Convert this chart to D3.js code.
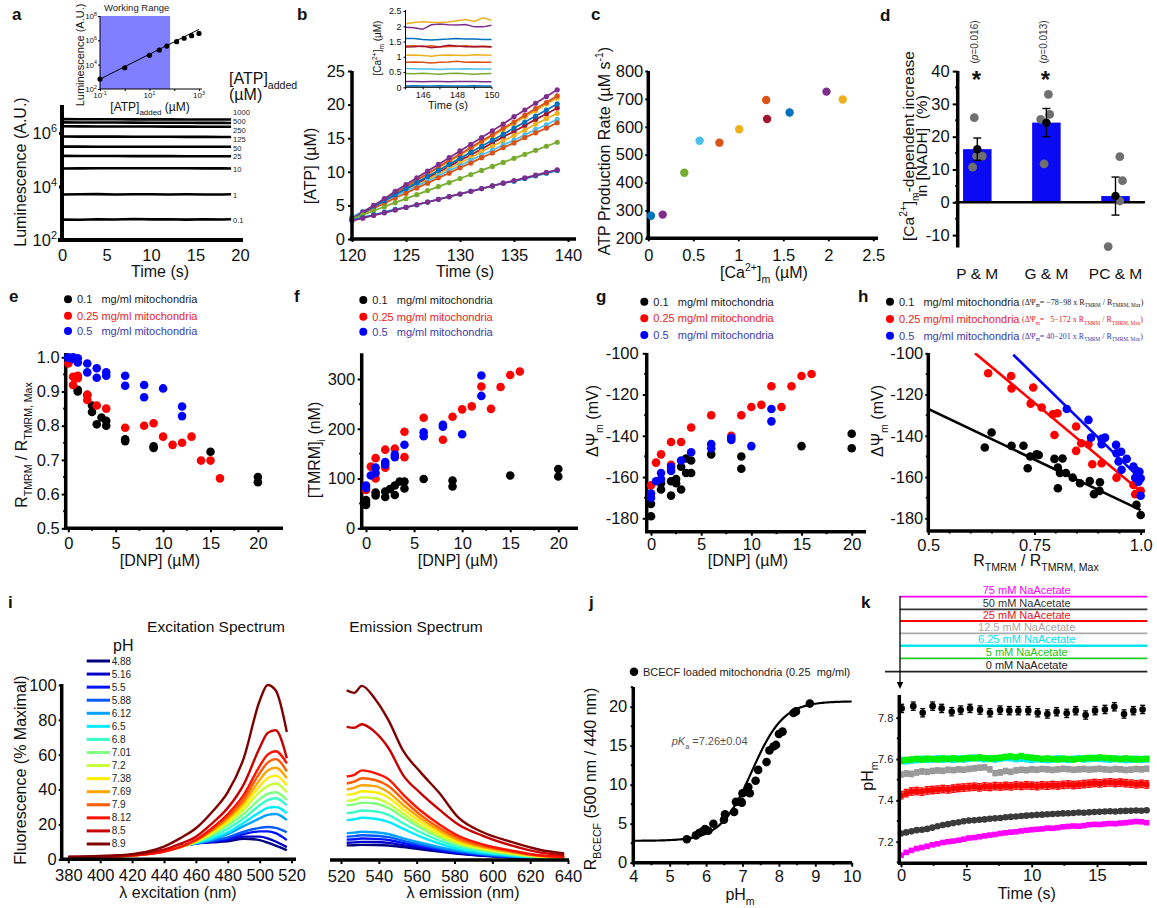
<!DOCTYPE html>
<html>
<head>
<meta charset="utf-8">
<script src="https://cdn.jsdelivr.net/npm/d3@7"></script>
<style>
  body { margin: 0; background: #fff; }
  svg { display: block; }
</style>
</head>
<body>
<div id="chart"></div>
<script>
// ================= DATA =================
// a — luciferase luminescence traces for each added [ATP]
const atpAdded = ['1000', '500', '250', '125', '50', '25', '10', '1', '0.1'];
const lumTime = [0, 2, 4, 6, 8, 10, 12, 14, 16, 18, 19];
const lum1000 = [3.30e6, 3.28e6, 3.27e6, 3.25e6, 3.24e6, 3.23e6, 3.22e6, 3.21e6, 3.20e6, 3.19e6, 3.18e6];
const lum500  = [2.50e6, 2.48e6, 2.47e6, 2.46e6, 2.44e6, 2.43e6, 2.42e6, 2.41e6, 2.40e6, 2.39e6, 2.38e6];
const lum250  = [1.78e6, 1.77e6, 1.76e6, 1.75e6, 1.75e6, 1.74e6, 1.73e6, 1.73e6, 1.72e6, 1.71e6, 1.71e6];
const lum125  = [7.40e5, 7.35e5, 7.30e5, 7.30e5, 7.25e5, 7.20e5, 7.20e5, 7.15e5, 7.15e5, 7.10e5, 7.10e5];
const lum50   = [3.10e5, 3.10e5, 3.08e5, 3.08e5, 3.07e5, 3.07e5, 3.06e5, 3.06e5, 3.05e5, 3.05e5, 3.05e5];
const lum25   = [1.39e5, 1.38e5, 1.38e5, 1.38e5, 1.37e5, 1.37e5, 1.37e5, 1.36e5, 1.36e5, 1.36e5, 1.36e5];
const lum10   = [4.70e4, 4.75e4, 4.80e4, 4.78e4, 4.80e4, 4.82e4, 4.78e4, 4.80e4, 4.76e4, 4.75e4, 4.72e4];
const lum1    = [5.00e3, 5.10e3, 5.20e3, 5.00e3, 5.10e3, 5.15e3, 5.05e3, 5.10e3, 5.00e3, 5.05e3, 5.10e3];
const lum01   = [580, 570, 600, 585, 610, 590, 600, 580, 595, 585, 600];
const lumTraces = [lum1000, lum500, lum250, lum125, lum50, lum25, lum10, lum1, lum01];
const lumLabelNudge = [-7, -1.4, 3.7, 2.5, 1.2, 0.5, 1, 0.7, 0.8];
// a inset — calibration
const atpInsetConc = [0.1, 1, 10, 25, 50, 125, 250, 500, 1000];
const atpInsetLum = [660, 5600, 5.9e4, 1.6e5, 3.4e5, 7.8e5, 1.48e6, 2.4e6, 3.7e6];
const atpWorkingRange = [0.1, 68];
const atpFitEnds = [[0.1, 650], [1000, 8.0e6]];

// b / c — ATP production and matrix Ca2+ (one entry per experiment)
const mBlue = '#0072BD', mOrange = '#D95319', mYellow = '#EDB120', mPurple = '#7E2F8E',
      mGreen = '#77AC30', mLightBlue = '#4DBEEE', mDarkRed = '#A2142F';
const caColor = [mBlue, mPurple, mGreen, mLightBlue, mOrange, mYellow, mOrange, mDarkRed, mBlue, mPurple, mYellow];
const caConc = [0.03, 0.16, 0.40, 0.57, 0.79, 1.01, 1.31, 1.32, 1.57, 1.98, 2.16];
const atpRate = [281, 285, 435, 550, 543, 591, 696, 628, 651, 726, 698];
const atpTime = [120, 121, 122, 123, 124, 125, 126, 127, 128, 129, 130, 131, 132, 133, 134, 135, 136, 137, 138, 139];
const atpTrace = [
  [2.8, 3.2, 3.6, 4.0, 4.4, 4.7, 5.1, 5.5, 5.9, 6.3, 6.7, 7.1, 7.5, 7.9, 8.3, 8.6, 9.0, 9.4, 9.8, 10.2],
  [2.7, 3.1, 3.5, 3.9, 4.3, 4.7, 5.1, 5.5, 5.9, 6.3, 6.7, 7.1, 7.5, 7.9, 8.3, 8.7, 9.1, 9.5, 9.9, 10.3],
  [3.0, 3.6, 4.2, 4.8, 5.4, 6.0, 6.6, 7.2, 7.8, 8.4, 9.0, 9.6, 10.2, 10.8, 11.4, 12.0, 12.6, 13.2, 13.8, 14.4],
  [3.3, 4.1, 4.8, 5.6, 6.4, 7.1, 7.9, 8.6, 9.4, 10.2, 10.9, 11.7, 12.5, 13.2, 14.0, 14.7, 15.5, 16.3, 17.0, 17.8],
  [3.1, 3.8, 4.6, 5.3, 6.1, 6.8, 7.6, 8.3, 9.1, 9.8, 10.6, 11.3, 12.1, 12.8, 13.6, 14.3, 15.1, 15.8, 16.5, 17.3],
  [3.1, 3.9, 4.7, 5.6, 6.4, 7.2, 8.0, 8.8, 9.7, 10.5, 11.3, 12.1, 13.0, 13.8, 14.6, 15.4, 16.2, 17.1, 17.9, 18.7],
  [3.0, 4.0, 4.9, 5.9, 6.9, 7.8, 8.8, 9.7, 10.7, 11.7, 12.6, 13.6, 14.6, 15.5, 16.5, 17.4, 18.4, 19.4, 20.3, 21.3],
  [3.0, 3.9, 4.7, 5.6, 6.5, 7.3, 8.2, 9.1, 9.9, 10.8, 11.7, 12.5, 13.4, 14.3, 15.2, 16.0, 16.9, 17.8, 18.6, 19.5],
  [3.0, 3.9, 4.8, 5.7, 6.6, 7.5, 8.4, 9.3, 10.2, 11.1, 12.0, 12.9, 13.8, 14.7, 15.6, 16.5, 17.4, 18.3, 19.2, 20.1],
  [3.0, 4.0, 5.0, 6.0, 7.1, 8.1, 9.1, 10.1, 11.1, 12.1, 13.1, 14.1, 15.1, 16.1, 17.1, 18.2, 19.2, 20.2, 21.2, 22.2],
  [3.0, 3.9, 4.9, 5.8, 6.8, 7.7, 8.7, 9.6, 10.6, 11.5, 12.5, 13.4, 14.4, 15.3, 16.3, 17.2, 18.2, 19.1, 20.1, 21.0]
];
const atpDrawOrder = [10, 6, 7, 5, 3, 4, 8, 9, 2, 0, 1];
const caTime = [145, 145.5, 146, 146.5, 147, 147.5, 148, 148.5, 149, 149.5, 150];
const caTrace = [
  [0.04, 0.05, 0.04, 0.04, 0.05, 0.04, 0.04, 0.04, 0.05, 0.04, 0.04],
  [0.19, 0.19, 0.18, 0.19, 0.19, 0.18, 0.19, 0.19, 0.19, 0.18, 0.18],
  [0.45, 0.44, 0.46, 0.44, 0.43, 0.45, 0.46, 0.44, 0.43, 0.44, 0.45],
  [0.62, 0.61, 0.60, 0.60, 0.58, 0.60, 0.60, 0.61, 0.60, 0.60, 0.60],
  [0.82, 0.83, 0.82, 0.80, 0.82, 0.83, 0.85, 0.82, 0.83, 0.82, 0.82],
  [1.05, 1.06, 1.04, 1.02, 1.05, 1.06, 1.05, 1.04, 1.07, 1.06, 1.05],
  [1.35, 1.36, 1.33, 1.36, 1.32, 1.34, 1.34, 1.36, 1.33, 1.35, 1.33],
  [1.32, 1.33, 1.35, 1.30, 1.33, 1.38, 1.35, 1.33, 1.34, 1.33, 1.32],
  [1.60, 1.60, 1.57, 1.55, 1.57, 1.58, 1.60, 1.58, 1.58, 1.57, 1.57],
  [1.97, 1.95, 1.90, 2.05, 2.07, 2.05, 2.04, 2.06, 1.98, 1.98, 2.03],
  [2.08, 2.12, 2.15, 2.13, 2.12, 2.14, 2.18, 2.22, 2.16, 2.28, 2.20]
];

// d — Ca2+-dependent NADH increase
const nadhGroups = ['P & M', 'G & M', 'PC & M'];
const nadhMean = [16.2, 24.3, 1.9];
const nadhSem = [3.4, 4.3, 5.8];
const nadhPoints = [[25.8, 10.7, 14.1, 14.1], [32.9, 25.3, 26.8, 11.7], [13.9, 6.6, 0.4, -13.5]];
const nadhJitter = [[-3, -4.7, -0.7, 5], [2, -5.7, 3.3, -2.3], [4.3, 7, 4.3, -7.3]];
const nadhP = ['0.016', '0.013', null];

// e–h — TMRM calibration at three mitochondrial densities
const mitoLabels = ['0.1\u00a0\u00a0\u00a0mg/ml mitochondria', '0.25 mg/ml mitochondria', '0.5\u00a0\u00a0\u00a0mg/ml mitochondria'];
const tmrmRatio01 = [[1, 0.905], [1, 0.9], [2, 0.89], [2.5, 0.859], [2.5, 0.84], [3, 0.804], [3.5, 0.824], [4, 0.814], [4, 0.80], [6, 0.755], [6, 0.76], [9, 0.74], [9, 0.735], [15, 0.724], [20, 0.65], [20, 0.635]];
const tmrmRatio025 = [[0, 0.982], [0.5, 0.943], [0.5, 0.919], [1, 0.946], [1, 0.939], [2, 0.89], [2, 0.875], [3, 0.859], [4, 0.85], [6, 0.794], [8, 0.80], [9, 0.807], [10, 0.768], [11, 0.744], [12, 0.75], [13, 0.768], [14, 0.698], [15, 0.698], [16, 0.646]];
const tmrmRatio05 = [[0, 1.0], [0, 0.998], [0.5, 1.0], [0.5, 0.995], [1, 0.997], [1, 0.985], [2, 0.982], [2, 0.956], [3, 0.968], [3, 0.94], [4, 0.956], [4, 0.946], [6, 0.946], [6, 0.917], [8, 0.919], [8, 0.883], [10, 0.909], [12, 0.856], [12, 0.828]];
const tmrmConc01 = [[0, 57], [0, 47], [0, 52], [1, 72], [1, 66], [2, 63], [2, 74], [2.5, 79], [3, 67], [3, 86], [3.5, 94], [4, 94], [4, 80], [6, 99], [9, 96], [9, 84], [15, 106], [20, 119], [20, 104]];
const tmrmConc025 = [[0, 77], [0.5, 124], [1, 141], [1, 100], [2, 158], [2, 122], [3, 160], [4, 194], [4, 143], [6, 222], [8, 178], [9, 224], [10, 239], [11, 245], [12, 285], [13, 240], [14, 284], [15, 308], [16, 315]];
const tmrmConc05 = [[0, 86], [0, 81], [0.5, 106], [1, 122], [1, 111], [2, 133], [2, 128], [3, 148], [3, 143], [4, 168], [6, 193], [6, 185], [8, 208], [8, 204], [10, 189], [12, 307], [12, 266]];
const psiDnp01 = [[0, -173], [0, -179], [1, -163], [1, -166], [2, -162], [2, -169], [2.5, -161], [2.5, -163], [3, -155], [3, -166], [3.5, -151], [3.5, -158], [4, -152], [4, -158], [6, -149], [9, -150], [9, -156], [15, -145], [20, -139], [20, -146]];
const psiDnp025 = [[0, -164], [0.5, -153], [1, -149], [2, -143], [2, -154], [3, -143], [4, -136], [6, -130], [8, -140], [9, -130], [10, -126], [11, -125], [12, -116], [13, -126], [14, -116], [15, -111], [16, -110]];
const psiDnp05 = [[0, -168], [0, -170], [0.5, -162], [1, -158], [1, -161], [2, -155], [2, -157], [3, -152], [4, -148], [6, -144], [6, -146], [8, -141], [8, -142], [10, -145], [12, -127], [12, -133]];
const psiRatio01 = [[0.633, -145.7], [0.649, -138.4], [0.696, -144.9], [0.724, -144.8], [0.734, -155.7], [0.74, -150], [0.755, -149], [0.76, -149.3], [0.797, -151.2], [0.816, -151], [0.805, -155.4], [0.81, -158], [0.805, -165.4], [0.824, -158], [0.84, -160.3], [0.857, -163], [0.88, -161.9], [0.89, -168.3], [0.904, -162.5], [0.903, -166.7], [0.99, -173.5], [1.0, -178.4]];
const psiRatio025 = [[0.641, -109.7], [0.695, -111], [0.696, -117], [0.747, -116.6], [0.741, -124.4], [0.767, -126.3], [0.793, -129.6], [0.804, -129.1], [0.797, -139.6], [0.848, -135.5], [0.848, -147.3], [0.86, -143.6], [0.877, -144.1], [0.908, -153.3], [0.886, -153.8], [0.943, -160.3], [0.983, -163.8], [0.987, -168.3], [1.0, -166.7]];
const psiRatio05 = [[0.826, -127], [0.877, -132.3], [0.883, -140.9], [0.908, -141.5], [0.916, -140.9], [0.908, -144.1], [0.942, -144.4], [0.943, -148.5], [0.954, -147.7], [0.948, -152.5], [0.967, -151.2], [0.955, -156.5], [0.983, -154.9], [0.99, -157], [0.987, -160.3], [0.997, -157.4], [1.0, -160.6], [1.0, -169.1], [0.995, -162.2]];
// linear fits ΔΨm = a + b·R (intercept, slope) and the R span each one covers
const psiFitCoef = [[-78, -98], [5, -172], [40, -201]];
const psiFitSpan = [[0.5, 1.0], [0.61, 1.0], [0.7, 1.0]];
const psiFitText = ['\u221278\u221298', '\u00a0\u00a05\u2212172', '40\u2212201'];

// i — BCECF excitation / emission spectra at each pH
const pHLevels = ['4.88', '5.16', '5.5', '5.88', '6.12', '6.5', '6.8', '7.01', '7.2', '7.38', '7.69', '7.9', '8.12', '8.5', '8.9'];
const exWl = [380, 400, 420, 430, 440, 450, 460, 470, 480, 490, 500, 505, 510, 517];
const exSpectra = [
  [1.2, 1.5, 2.5, 3.5, 5.3, 7.6, 9.2, 9.8, 10.3, 11.8, 11.0, 9.5, 7.8, 5.2],
  [1.2, 1.5, 2.5, 3.5, 5.3, 7.6, 9.2, 10.0, 11.0, 13.0, 13.0, 12.0, 10.2, 7.0],
  [1.2, 1.5, 2.5, 3.5, 5.2, 7.5, 9.1, 10.2, 11.8, 14.5, 16.0, 16.0, 15.0, 11.0],
  [1.2, 1.5, 2.4, 3.4, 5.1, 7.4, 9.1, 10.6, 12.6, 15.8, 18.0, 18.5, 18.0, 15.5],
  [1.2, 1.5, 2.4, 3.4, 5.0, 7.3, 9.2, 11.2, 14.5, 19.0, 23.5, 25.5, 26.0, 22.5],
  [1.2, 1.5, 2.3, 3.3, 4.9, 7.2, 9.4, 12.0, 15.5, 21.0, 27.0, 29.5, 30.0, 26.5],
  [1.2, 1.4, 2.3, 3.3, 4.8, 7.1, 9.6, 13.0, 17.5, 23.5, 31.0, 34.0, 35.0, 31.0],
  [1.2, 1.4, 2.2, 3.2, 4.7, 7.0, 9.8, 14.0, 19.5, 26.0, 34.5, 37.5, 38.5, 34.0],
  [1.2, 1.4, 2.2, 3.2, 4.7, 7.0, 10.0, 14.8, 21.0, 28.5, 38.5, 42.0, 43.5, 38.5],
  [1.2, 1.4, 2.2, 3.1, 4.6, 7.0, 10.3, 15.5, 22.0, 30.5, 42.0, 46.5, 48.0, 42.5],
  [1.2, 1.4, 2.1, 3.1, 4.6, 7.0, 10.6, 16.2, 23.2, 32.5, 45.5, 51.0, 52.5, 46.5],
  [1.2, 1.4, 2.1, 3.0, 4.5, 7.0, 10.9, 17.0, 24.5, 34.5, 49.5, 55.5, 57.5, 50.5],
  [1.2, 1.4, 2.1, 3.0, 4.5, 7.0, 11.2, 17.8, 26.0, 37.0, 53.5, 60.0, 62.0, 55.0],
  [1.3, 1.6, 2.5, 3.6, 5.5, 8.8, 13.0, 20.5, 29.5, 43.0, 64.0, 72.5, 74.0, 58.0],
  [1.5, 1.9, 3.0, 4.5, 7.3, 12.0, 17.8, 27.0, 38.5, 58.0, 91.0, 100, 97.0, 73.0]
];
const emWl = [523, 527, 531, 538, 545, 553, 562, 572, 582, 595, 610, 625, 638];
const emSpectra = [
  [8.0, 8.1, 8.3, 8.2, 7.9, 7.0, 5.8, 4.4, 3.2, 2.0, 1.1, 0.5, 0.3],
  [9.5, 9.7, 10.0, 9.9, 9.4, 8.1, 6.6, 4.9, 3.5, 2.2, 1.2, 0.55, 0.3],
  [11.3, 11.5, 11.9, 11.7, 11.1, 9.4, 7.5, 5.5, 3.9, 2.4, 1.3, 0.6, 0.35],
  [13.0, 13.3, 13.8, 13.5, 12.7, 10.6, 8.4, 6.2, 4.4, 2.7, 1.5, 0.7, 0.4],
  [15.0, 15.3, 15.8, 15.5, 14.5, 12.0, 9.5, 7.0, 5.0, 3.1, 1.7, 0.8, 0.45],
  [22.5, 23.0, 23.8, 23.3, 21.5, 17.5, 13.0, 9.0, 6.0, 3.8, 2.2, 1.0, 0.6],
  [26.5, 27.0, 28.0, 27.5, 25.5, 20.5, 15.5, 10.7, 7.2, 4.5, 2.6, 1.2, 0.7],
  [31.0, 31.5, 32.5, 32.0, 29.5, 24.0, 18.0, 12.5, 8.4, 5.3, 3.0, 1.4, 0.8],
  [33.5, 34.0, 35.5, 35.0, 32.0, 26.0, 19.5, 13.5, 9.1, 5.8, 3.3, 1.5, 0.9],
  [37.0, 37.5, 39.0, 38.5, 35.5, 28.5, 21.5, 15.0, 10.0, 6.4, 3.7, 1.7, 1.0],
  [40.0, 41.0, 42.5, 42.0, 38.5, 31.0, 23.5, 16.5, 11.0, 7.0, 4.1, 1.9, 1.1],
  [43.5, 44.5, 46.5, 45.5, 42.0, 34.0, 25.5, 18.0, 12.2, 7.7, 4.5, 2.1, 1.2],
  [47.5, 48.5, 51.0, 49.5, 46.0, 37.0, 28.0, 20.0, 13.5, 8.5, 5.0, 2.3, 1.3],
  [76.0, 75.5, 77.5, 73.0, 64.0, 48.0, 38.0, 28.5, 20.0, 13.5, 8.0, 4.0, 2.3],
  [97.0, 95.5, 99.5, 92.0, 80.0, 62.0, 50.0, 38.0, 24.0, 15.5, 10.0, 5.5, 3.3]
];

// j — BCECF ratio calibration
const bcecfPH = [5.47, 5.72, 5.81, 5.9, 5.97, 6.06, 6.2, 6.49, 6.52, 6.77, 6.82, 6.96, 7.0, 6.98, 7.11, 7.16, 7.2, 7.36, 7.43, 7.66, 7.74, 7.85, 7.92, 8.0, 8.1, 8.4, 8.47, 8.85];
const bcecfRatio = [3.0, 3.5, 3.8, 4.0, 4.3, 4.1, 5.0, 5.5, 6.2, 6.5, 7.8, 7.8, 8.9, 7.7, 9.1, 9.7, 8.9, 10.5, 11.9, 12.9, 14.4, 14.9, 15.1, 16.5, 16.8, 19.2, 19.4, 20.4];
const bcecfFit = { pKa: 7.26, bottom: 2.8, top: 20.7 };

// k — matrix pH after NaAcetate additions
const acetateLevels = ['75', '50', '25', '12.5', '6.25', '5', '0'];
const pHTimeSparse = [0.05, 0.94, 1.66, 2.42, 3.11, 3.88, 4.57, 5.28, 6.05, 6.81, 7.58, 8.29, 8.98, 9.74, 10.46, 11.2, 11.91, 12.68, 13.37, 14.13, 14.85, 15.61, 16.33, 17.07, 17.78, 18.49];
const pHAcetate0 = [7.845, 7.856, 7.824, 7.856, 7.845, 7.829, 7.837, 7.845, 7.837, 7.824, 7.837, 7.834, 7.834, 7.834, 7.824, 7.818, 7.829, 7.821, 7.834, 7.813, 7.834, 7.84, 7.853, 7.818, 7.834, 7.84];
const pHTimeDense = [0, 0.4, 0.8, 1.2, 1.6, 2, 2.4, 2.8, 3.2, 3.6, 4, 4.4, 4.8, 5.2, 5.6, 6, 6.4, 6.8, 7.2, 7.6, 8, 8.4, 8.8, 9.2, 9.6, 10, 10.4, 10.8, 11.2, 11.6, 12, 12.4, 12.8, 13.2, 13.6, 14, 14.4, 14.8, 15.2, 15.6, 16, 16.4, 16.8, 17.2, 17.6, 18, 18.4, 18.8];
const pHAcetate5 = [7.590, 7.596, 7.598, 7.601, 7.597, 7.602, 7.600, 7.598, 7.603, 7.601, 7.604, 7.600, 7.603, 7.606, 7.604, 7.608, 7.605, 7.602, 7.604, 7.607, 7.611, 7.613, 7.609, 7.615, 7.610, 7.607, 7.604, 7.601, 7.603, 7.600, 7.598, 7.602, 7.600, 7.597, 7.601, 7.603, 7.606, 7.604, 7.608, 7.606, 7.604, 7.602, 7.600, 7.603, 7.601, 7.598, 7.600, 7.601];
const pHAcetate625 = [7.595, 7.590, 7.594, 7.596, 7.600, 7.597, 7.599, 7.602, 7.598, 7.600, 7.597, 7.601, 7.599, 7.603, 7.606, 7.604, 7.600, 7.602, 7.599, 7.603, 7.606, 7.605, 7.601, 7.603, 7.600, 7.597, 7.600, 7.598, 7.596, 7.599, 7.602, 7.600, 7.597, 7.600, 7.602, 7.599, 7.601, 7.604, 7.602, 7.600, 7.598, 7.601, 7.599, 7.596, 7.598, 7.600, 7.597, 7.599];
const pHAcetate125 = [7.525, 7.530, 7.528, 7.535, 7.540, 7.538, 7.542, 7.545, 7.543, 7.548, 7.546, 7.550, 7.548, 7.552, 7.555, 7.558, 7.560, 7.550, 7.532, 7.535, 7.542, 7.538, 7.545, 7.548, 7.546, 7.550, 7.548, 7.552, 7.550, 7.547, 7.550, 7.553, 7.551, 7.548, 7.550, 7.552, 7.549, 7.551, 7.553, 7.550, 7.548, 7.552, 7.550, 7.547, 7.549, 7.552, 7.550, 7.553];
const pHAcetate25 = [7.425, 7.435, 7.443, 7.445, 7.442, 7.448, 7.450, 7.452, 7.455, 7.453, 7.457, 7.460, 7.462, 7.464, 7.466, 7.463, 7.467, 7.465, 7.469, 7.467, 7.470, 7.468, 7.472, 7.470, 7.473, 7.471, 7.469, 7.473, 7.471, 7.474, 7.472, 7.475, 7.477, 7.474, 7.476, 7.479, 7.481, 7.484, 7.482, 7.485, 7.487, 7.484, 7.486, 7.483, 7.481, 7.478, 7.480, 7.477];
const pHAcetate50 = [7.240, 7.245, 7.250, 7.256, 7.258, 7.262, 7.268, 7.275, 7.281, 7.285, 7.290, 7.294, 7.299, 7.302, 7.304, 7.306, 7.308, 7.311, 7.313, 7.315, 7.318, 7.320, 7.322, 7.324, 7.326, 7.328, 7.330, 7.331, 7.333, 7.334, 7.335, 7.337, 7.338, 7.339, 7.341, 7.340, 7.342, 7.344, 7.345, 7.346, 7.347, 7.346, 7.348, 7.349, 7.350, 7.351, 7.350, 7.352];
const pHAcetate75 = [7.135, 7.148, 7.158, 7.167, 7.172, 7.178, 7.185, 7.190, 7.196, 7.200, 7.203, 7.207, 7.212, 7.218, 7.220, 7.224, 7.228, 7.232, 7.235, 7.240, 7.243, 7.246, 7.248, 7.252, 7.255, 7.258, 7.260, 7.262, 7.266, 7.265, 7.268, 7.272, 7.274, 7.276, 7.275, 7.278, 7.282, 7.284, 7.283, 7.286, 7.288, 7.287, 7.290, 7.292, 7.295, 7.298, 7.296, 7.292];
const pHErr = { a0: 0.02, a5: 0.012, a625: 0.014, a125: 0.013, a25: 0.018, a50: 0.004, a75: 0.005 };

// ================= DRAWING =================
const W = 1157, H = 908;
const FONT = "'Liberation Sans', Arial, Helvetica, sans-serif";
const svg = d3.select('#chart').append('svg').attr('width', W).attr('height', H)
  .attr('font-family', FONT);
svg.append('rect').attr('width', W).attr('height', H).attr('fill', '#fff');

// text with sub/superscript and italic runs: parts = [[string, mode], ...]
function rich(g, x, y, parts, o = {}) {
  const size = o.size || 15;
  const t = g.append('text').attr('x', x).attr('y', y).attr('font-size', size)
    .attr('fill', o.fill || '#111').attr('text-anchor', o.anchor || 'start');
  if (o.rotate) t.attr('transform', `rotate(${o.rotate},${x},${y})`);
  if (o.family) t.attr('font-family', o.family);
  if (o.weight) t.attr('font-weight', o.weight);
  let shift = 0;
  const list = typeof parts === 'string' ? [[parts]] : parts;
  list.forEach(([s, mode]) => {
    const target = mode === 'sub' ? size * 0.32 : mode === 'sup' ? -size * 0.42 : 0;
    const ts = t.append('tspan').text(s);
    if (target !== shift) ts.attr('dy', target - shift);
    if (mode === 'sub' || mode === 'sup') ts.attr('font-size', size * 0.66);
    if (mode === 'i') ts.attr('font-style', 'italic');
    shift = target;
  });
  return t;
}

function styleAxis(ag, o) {
  ag.attr('font-family', FONT);
  ag.select('.domain').remove();
  ag.selectAll('.tick line').attr('stroke', '#000').attr('stroke-width', o.tw ?? 2);
  ag.selectAll('.tick text').attr('font-size', o.fs ?? 16.5).attr('fill', '#111');
}
function yAxis(g, scale, o) {
  const a = d3.axisLeft(scale).tickValues(o.ticks).tickSize(o.tick ?? 4)
    .tickPadding(o.pad ?? 3).tickFormat(o.fmt || (d => d));
  const ag = g.append('g').attr('transform', `translate(${o.x},0)`).call(a);
  styleAxis(ag, o);
  if (o.minor) ag.append('g').selectAll('line').data(o.minor).join('line')
    .attr('x1', -(o.minorLen ?? 2.5)).attr('x2', 0)
    .attr('y1', d => scale(d)).attr('y2', d => scale(d))
    .attr('stroke', '#000').attr('stroke-width', o.tw ?? 2);
  g.append('line').attr('x1', o.x).attr('x2', o.x).attr('y1', o.from).attr('y2', o.to)
    .attr('stroke', '#000').attr('stroke-width', o.w ?? 3.5);
}
function xAxis(g, scale, o) {
  const a = d3.axisBottom(scale).tickValues(o.ticks).tickSize(o.tick ?? 4)
    .tickPadding(o.pad ?? 4).tickFormat(o.fmt || (d => d));
  const ag = g.append('g').attr('transform', `translate(0,${o.y})`).call(a);
  styleAxis(ag, o);
  if (o.minor) ag.append('g').selectAll('line').data(o.minor).join('line')
    .attr('y1', o.minorLen ?? 2.5).attr('y2', 0)
    .attr('x1', d => scale(d)).attr('x2', d => scale(d))
    .attr('stroke', '#000').attr('stroke-width', o.tw ?? 2);
  g.append('line').attr('y1', o.y).attr('y2', o.y).attr('x1', o.from).attr('x2', o.to)
    .attr('stroke', '#000').attr('stroke-width', o.w ?? 3.5);
}
function dots(g, data, x, y, r, fill) {
  g.append('g').selectAll('circle').data(data).join('circle')
    .attr('cx', d => x(d[0])).attr('cy', d => y(d[1])).attr('r', r).attr('fill', fill);
}
function panelLetter(x, y, s) {
  svg.append('text').attr('x', x).attr('y', y).attr('font-size', 17)
    .attr('font-weight', 'bold').attr('fill', '#111').text(s);
}
const sup10 = (g, x, y, p, size, anchor) => rich(g, x, y, [['10'], [String(p), 'sup']], { size, anchor });

// ---------- a ----------
(function () {
  const g = svg.append('g');
  const x = d3.scaleLinear().domain([0, 20]).range([62, 240]);
  const y = d3.scaleLog().domain([1e2, 1e7]).range([240, 106.25]);
  const line = d3.line().x((d, i) => x(lumTime[i])).y(d => y(d));
  lumTraces.forEach((tr, k) => {
    g.append('path').attr('d', line(tr)).attr('fill', 'none').attr('stroke', '#000').attr('stroke-width', 2.6);
    g.append('text').attr('x', 233).attr('y', y(tr[tr.length - 1]) + lumLabelNudge[k]).attr('dy', '0.35em')
      .attr('font-size', 7.6).attr('fill', '#222').text(atpAdded[k]);
  });
  xAxis(g, x, { y: 240, from: 58, to: 243, ticks: [0, 5, 10, 15, 20], tick: 0, pad: 9, w: 4 });
  yAxis(g, y, { x: 62, from: 242, to: 105, ticks: [1e2, 1e4, 1e6], fmt: () => '', tick: 3, tw: 3, w: 4 });
  [2, 4, 6].forEach(p => sup10(g, 57, y(10 ** p) + 6, p, 16.5, 'end'));
  rich(g, 160, 277, 'Time (s)', { size: 16, anchor: 'middle' });
  rich(g, 26, 172, 'Luminescence (A.U.)', { size: 16, anchor: 'middle', rotate: -90 });
  rich(g, 229, 84, [['[ATP]'], ['added', 'sub']], { size: 16 });
  rich(g, 229, 100, '(\u00b5M)', { size: 16 });

  // calibration inset
  const xi = d3.scaleLog().domain([0.1, 1000]).range([100, 199]);
  const yi = d3.scaleLog().domain([1e2, 1e8]).range([89, 16]);
  g.append('rect').attr('x', xi(atpWorkingRange[0])).attr('y', yi(1e8))
    .attr('width', xi(atpWorkingRange[1]) - xi(atpWorkingRange[0]))
    .attr('height', yi(1e2) - yi(1e8)).attr('fill', '#7f7fff');
  g.append('line').attr('x1', xi(atpFitEnds[0][0])).attr('y1', yi(atpFitEnds[0][1]))
    .attr('x2', xi(atpFitEnds[1][0])).attr('y2', yi(atpFitEnds[1][1]))
    .attr('stroke', '#000').attr('stroke-width', 1);
  dots(g, atpInsetConc.map((c, i) => [c, atpInsetLum[i]]), xi, yi, 2.6, '#000');
  yAxis(g, yi, { x: 100, from: 89, to: 16, ticks: [1e2, 1e4, 1e6, 1e8], fmt: () => '', tick: 2, tw: 1, w: 1 });
  xAxis(g, xi, { y: 89, from: 100, to: 202, ticks: [0.1, 1, 10, 100, 1000], fmt: () => '', tick: 2, tw: 1, w: 1 });
  [2, 4, 6, 8].forEach(p => sup10(g, 97, yi(10 ** p) + 3, p, 8, 'end'));
  [[0.1, '-1'], [10, '1'], [1000, '3']].forEach(([v, p]) => sup10(g, xi(v), 98, p, 8, 'middle'));
  rich(g, 104, 11, 'Working Range', { size: 9.5, fill: '#222' });
  rich(g, 84, 55, 'Luminescence (A.U.)', { size: 11, anchor: 'middle', rotate: -90 });
  rich(g, 150, 111, [['[ATP]'], ['added', 'sub'], [' (\u00b5M)']], { size: 12, anchor: 'middle' });
})();

// ---------- b ----------
(function () {
  const g = svg.append('g');
  const x = d3.scaleLinear().domain([120, 140]).range([352, 568]);
  const y = d3.scaleLinear().domain([0, 25]).range([239, 71]);
  const line = d3.line().x((d, i) => x(atpTime[i])).y(d => y(d));
  atpDrawOrder.forEach(k => {
    const tr = atpTrace[k];
    g.append('path').attr('d', line(tr)).attr('fill', 'none').attr('stroke', caColor[k]).attr('stroke-width', 1.8);
    g.append('g').selectAll('circle').data(tr).join('circle')
      .attr('cx', (d, i) => x(atpTime[i])).attr('cy', d => y(d)).attr('r', 2.6).attr('fill', caColor[k]);
  });
  yAxis(g, y, { x: 352, from: 241, to: 71, ticks: [0, 5, 10, 15, 20, 25], tick: 4, pad: 3 });
  xAxis(g, x, { y: 239, from: 350, to: 576, ticks: [120, 125, 130, 135, 140], tick: 3, pad: 7 });
  rich(g, 465, 277, 'Time (s)', { size: 16, anchor: 'middle' });
  rich(g, 316, 166, '[ATP] (\u00b5M)', { size: 16, anchor: 'middle', rotate: -90 });

  // matrix Ca2+ inset
  const xi = d3.scaleLinear().domain([145, 150]).range([405.5, 491.5]);
  const yi = d3.scaleLinear().domain([0, 2.5]).range([87.3, 11]);
  const li = d3.line().x((d, i) => xi(caTime[i])).y(d => yi(d));
  caTrace.forEach((tr, k) => g.append('path').attr('d', li(tr)).attr('fill', 'none')
    .attr('stroke', caColor[k]).attr('stroke-width', 1.5));
  yAxis(g, yi, { x: 405.5, from: 87.3, to: 10, ticks: [0, 0.5, 1, 1.5, 2, 2.5], tick: 2, pad: 2, tw: 1, w: 1, fs: 9 });
  xAxis(g, xi, { y: 87.3, from: 405.5, to: 492, ticks: [146, 148, 150], minor: [145, 147, 149], minorLen: 2, tick: 2, pad: 2, tw: 1, w: 1, fs: 9 });
  rich(g, 448, 109, 'Time (s)', { size: 11, anchor: 'middle' });
  rich(g, 381, 48, [['[Ca'], ['2+', 'sup'], [']'], ['m', 'sub'], [' (\u00b5M)']], { size: 10, anchor: 'middle', rotate: -90 });
})();

// ---------- c ----------
(function () {
  const g = svg.append('g');
  const x = d3.scaleLinear().domain([0, 2.5]).range([648.3, 873.3]);
  const y = d3.scaleLinear().domain([200, 800]).range([238.3, 71]);
  yAxis(g, y, { x: 648.3, from: 240, to: 71, ticks: [200, 300, 400, 500, 600, 700, 800], tick: 3, pad: 2 });
  xAxis(g, x, { y: 238.3, from: 646, to: 878, ticks: [0, 0.5, 1, 1.5, 2, 2.5], tick: 3, pad: 8 });
  g.append('g').selectAll('circle').data(caConc).join('circle')
    .attr('cx', d => x(d)).attr('cy', (d, i) => y(atpRate[i])).attr('r', 4.2)
    .attr('fill', (d, i) => caColor[i]);
  rich(g, 764, 278, [['[Ca'], ['2+', 'sup'], [']'], ['m', 'sub'], [' (\u00b5M)']], { size: 16, anchor: 'middle' });
  rich(g, 610, 151, [['ATP Production Rate (\u00b5M s'], ['-1', 'sup'], [')']], { size: 16, anchor: 'middle', rotate: -90 });
})();

// ---------- d ----------
(function () {
  const g = svg.append('g');
  const y = d3.scaleLinear().domain([0, 40]).range([202.3, 71.1]);
  const x = d3.scalePoint().domain(nadhGroups).range([977.3, 1115.5]);
  const bw = 28.5;
  g.append('g').selectAll('rect').data(nadhMean).join('rect')
    .attr('x', (d, i) => x(nadhGroups[i]) - bw / 2).attr('width', bw)
    .attr('y', d => y(Math.max(d, 0))).attr('height', d => Math.abs(y(d) - y(0)))
    .attr('fill', '#0a0af5');
  g.append('line').attr('x1', 955).attr('x2', 1145).attr('y1', y(0)).attr('y2', y(0))
    .attr('stroke', '#000').attr('stroke-width', 2.5);
  nadhPoints.forEach((pts, i) => {
    const cx = x(nadhGroups[i]);
    pts.forEach((v, j) => g.append('circle').attr('cx', cx + nadhJitter[i][j]).attr('cy', y(v))
      .attr('r', 4.4).attr('fill', '#6f6f6f'));
  });
  nadhMean.forEach((m, i) => {
    const cx = x(nadhGroups[i]), lo = y(m - nadhSem[i]), hi = y(m + nadhSem[i]);
    g.append('line').attr('x1', cx).attr('x2', cx).attr('y1', lo).attr('y2', hi).attr('stroke', '#000').attr('stroke-width', 1.4);
    [lo, hi].forEach(yy => g.append('line').attr('x1', cx - 4).attr('x2', cx + 4).attr('y1', yy).attr('y2', yy).attr('stroke', '#000').attr('stroke-width', 1.4));
    g.append('circle').attr('cx', cx).attr('cy', y(m)).attr('r', 4.2).attr('fill', '#000');
    if (nadhP[i]) {
      g.append('text').attr('x', cx - 1).attr('y', 88).attr('text-anchor', 'middle')
        .attr('font-size', 24).attr('font-weight', 'bold').attr('fill', '#111').text('*');
      rich(g, cx + 0.5, 42, [['('], ['p', 'i'], ['=' + nadhP[i] + ')']], { size: 10, anchor: 'middle', rotate: -90, fill: '#333' });
    }
  });
  yAxis(g, y, { x: 957.7, from: 247.5, to: 71, ticks: [-10, 0, 10, 20, 30, 40], minor: [-5, 5, 15, 25, 35], tick: 5, pad: 3 });
  nadhGroups.forEach(c => rich(g, x(c), 279, c, { size: 15.5, anchor: 'middle' }));
  rich(g, 914, 146, [['[Ca'], ['2+', 'sup'], [']'], ['m', 'sub'], ['-dependent increase']], { size: 15.5, anchor: 'middle', rotate: -90 });
  rich(g, 926.5, 146, 'in [NADH]\u00a0\u00a0(%)', { size: 15.5, anchor: 'middle', rotate: -90 });
})();

// ---------- e–h shared bits ----------
const mitoDot = ['#000000', '#ff0000', '#0000ff'];
const mitoText = ['#1a1a1a', '#e8231d', '#3b3ba8'];
function mitoLegend(g, xd, rows, extra) {
  rows.forEach((yy, i) => {
    g.append('circle').attr('cx', xd).attr('cy', yy).attr('r', 4).attr('fill', mitoDot[i]);
    g.append('text').attr('x', xd + 9).attr('y', yy + 4).attr('font-size', 11)
      .attr('fill', mitoText[i]).text(mitoLabels[i]);
    if (extra) extra(i, yy);
  });
}

// ---------- e ----------
(function () {
  const g = svg.append('g');
  const x = d3.scaleLinear().domain([0, 20]).range([68.3, 257.9]);
  const y = d3.scaleLinear().domain([0.5, 1]).range([528.3, 357.3]);
  yAxis(g, y, { x: 65.7, from: 530, to: 353, ticks: [0.5, 0.6, 0.7, 0.8, 0.9, 1.0], fmt: d3.format('.1f'), minor: [0.55, 0.65, 0.75, 0.85, 0.95], tick: 4, pad: 2 });
  xAxis(g, x, { y: 528.3, from: 64, to: 283, ticks: [0, 5, 10, 15, 20], minor: [2.5, 7.5, 12.5, 17.5], tick: 4, pad: 5 });
  dots(g, tmrmRatio01, x, y, 4.3, mitoDot[0]);
  dots(g, tmrmRatio025, x, y, 4.3, mitoDot[1]);
  dots(g, tmrmRatio05, x, y, 4.3, mitoDot[2]);
  mitoLegend(g, 68, [299.3, 315.7, 331]);
  rich(g, 160, 566, '[DNP] (\u00b5M)', { size: 16, anchor: 'middle' });
  rich(g, 27, 445, [['R'], ['TMRM', 'sub'], [' / R'], ['TMRM, Max', 'sub']], { size: 16, anchor: 'middle', rotate: -90 });
})();

// ---------- f ----------
(function () {
  const g = svg.append('g');
  const x = d3.scaleLinear().domain([0, 20]).range([366, 558.3]);
  const y = d3.scaleLinear().domain([0, 300]).range([528.3, 379]);
  yAxis(g, y, { x: 361.7, from: 530, to: 353.3, ticks: [0, 100, 200, 300], minor: [50, 150, 250], tick: 4, pad: 2.5 });
  xAxis(g, x, { y: 528.3, from: 360, to: 578, ticks: [0, 5, 10, 15, 20], minor: [2.5, 7.5, 12.5, 17.5], tick: 4, pad: 5 });
  dots(g, tmrmConc01, x, y, 4.3, mitoDot[0]);
  dots(g, tmrmConc025, x, y, 4.3, mitoDot[1]);
  dots(g, tmrmConc05, x, y, 4.3, mitoDot[2]);
  mitoLegend(g, 363.3, [300, 316.7, 331.7]);
  rich(g, 458, 566, '[DNP] (\u00b5M)', { size: 16, anchor: 'middle' });
  rich(g, 320, 450, [['[TMRM]'], ['i', 'sub'], [' (nM)']], { size: 16, anchor: 'middle', rotate: -90 });
})();

// ---------- g ----------
(function () {
  const g = svg.append('g');
  const x = d3.scaleLinear().domain([0, 20]).range([651, 851.7]);
  const y = d3.scaleLinear().domain([-180, -100]).range([518.3, 353.3]);
  yAxis(g, y, { x: 646.7, from: 532, to: 353, ticks: [-180, -160, -140, -120, -100], minor: [-170, -150, -130, -110], tick: 4, pad: 4 });
  xAxis(g, x, { y: 531.7, from: 645, to: 866, ticks: [0, 5, 10, 15, 20], minor: [2.5, 7.5, 12.5, 17.5], tick: 4, pad: 3 });
  dots(g, psiDnp01, x, y, 4.3, mitoDot[0]);
  dots(g, psiDnp025, x, y, 4.3, mitoDot[1]);
  dots(g, psiDnp05, x, y, 4.3, mitoDot[2]);
  mitoLegend(g, 644.3, [301.7, 318.3, 335]);
  rich(g, 748, 566, '[DNP] (\u00b5M)', { size: 16, anchor: 'middle' });
  rich(g, 598, 421, [['\u0394\u03a8'], ['m', 'sub'], [' (mV)']], { size: 16, anchor: 'middle', rotate: -90 });
})();

// ---------- h ----------
(function () {
  const g = svg.append('g');
  const x = d3.scaleLinear().domain([0.5, 1.0]).range([928.3, 1140.7]);
  const y = d3.scaleLinear().domain([-180, -100]).range([518.3, 353.3]);
  g.append('clipPath').attr('id', 'hclip').append('rect').attr('x', 928).attr('y', 353).attr('width', 220).attr('height', 180);
  psiFitCoef.forEach(([a, b], i) => {
    const [r0, r1] = psiFitSpan[i];
    g.append('line').attr('clip-path', 'url(#hclip)')
      .attr('x1', x(r0)).attr('y1', y(a + b * r0)).attr('x2', x(r1)).attr('y2', y(a + b * r1))
      .attr('stroke', mitoDot[i]).attr('stroke-width', 2.6);
  });
  dots(g, psiRatio01, x, y, 4.3, mitoDot[0]);
  dots(g, psiRatio025, x, y, 4.3, mitoDot[1]);
  dots(g, psiRatio05, x, y, 4.3, mitoDot[2]);
  yAxis(g, y, { x: 928.3, from: 532, to: 353, ticks: [-180, -160, -140, -120, -100], minor: [-170, -150, -130, -110], tick: 3, pad: 2 });
  xAxis(g, x, { y: 531, from: 927, to: 1145, ticks: [0.5, 0.75, 1.0], fmt: d => (d === 1 ? '1.0' : String(d)), minor: [0.55, 0.6, 0.65, 0.7, 0.8, 0.85, 0.9, 0.95], tick: 4, pad: 4 });
  mitoLegend(g, 890, [301.7, 319, 335.7], (i, yy) => {
    rich(g, 1022, yy + 3, [['(\u0394\u03a8'], ['m', 'sub'], ['=\u00a0' + psiFitText[i] + ' x R'], ['TMRM', 'sub'], [' / R'], ['TMRM, Max', 'sub'], [')']],
      { size: 8, fill: mitoText[i], family: "'Liberation Serif', 'Times New Roman', serif" });
  });
  rich(g, 1036, 566, [['R'], ['TMRM', 'sub'], [' / R'], ['TMRM, Max', 'sub']], { size: 16, anchor: 'middle' });
  rich(g, 883, 421, [['\u0394\u03a8'], ['m', 'sub'], [' (mV)']], { size: 16, anchor: 'middle', rotate: -90 });
})();

// ---------- i ----------
function jet(t) {
  const c = v => Math.max(0, Math.min(1, v));
  return d3.rgb(255 * c(1.5 - Math.abs(4 * t - 3)), 255 * c(1.5 - Math.abs(4 * t - 2)), 255 * c(1.5 - Math.abs(4 * t - 1))).formatHex();
}
const pHColor = pHLevels.map((d, i) => jet(i / (pHLevels.length - 1)));
(function () {
  const g = svg.append('g');
  const y = d3.scaleLinear().domain([0, 100]).range([859.3, 685]);
  // excitation
  const xe = d3.scaleLinear().domain([380, 520]).range([68.3, 291.6]);
  const le = d3.line().x((d, i) => xe(exWl[i])).y(d => y(d)).curve(d3.curveMonotoneX);
  exSpectra.forEach((s, k) => g.append('path').attr('d', le(s)).attr('fill', 'none')
    .attr('stroke', pHColor[k]).attr('stroke-width', 2.4));
  yAxis(g, y, { x: 61.7, from: 861, to: 684, ticks: [0, 20, 40, 60, 80, 100], tick: 3, pad: 2 });
  xAxis(g, xe, { y: 859.3, from: 60, to: 296, ticks: [380, 400, 420, 440, 460, 480, 500, 520], tick: 4, pad: 6 });
  rich(g, 216, 632, 'Excitation Spectrum', { size: 15.5, anchor: 'middle' });
  rich(g, 178, 898, '\u03bb excitation (nm)', { size: 16, anchor: 'middle' });
  rich(g, 26, 770, 'Fluorescence (% Maximal)', { size: 16, anchor: 'middle', rotate: -90 });
  rich(g, 113, 651, 'pH', { size: 16 });
  pHLevels.forEach((p, k) => {
    const yy = 661 + k * 13.07;
    g.append('line').attr('x1', 86.7).attr('x2', 110).attr('y1', yy).attr('y2', yy)
      .attr('stroke', pHColor[k]).attr('stroke-width', 3);
    g.append('text').attr('x', 111.7).attr('y', yy + 3.5).attr('font-size', 10).attr('fill', '#222').text(p);
  });
  // emission
  const xm = d3.scaleLinear().domain([520, 640]).range([341, 568]);
  const lm = d3.line().x((d, i) => xm(emWl[i])).y(d => y(d)).curve(d3.curveMonotoneX);
  emSpectra.forEach((s, k) => g.append('path').attr('d', lm(s)).attr('fill', 'none')
    .attr('stroke', pHColor[k]).attr('stroke-width', 2.4));
  xAxis(g, xm, { y: 860, from: 330, to: 569, ticks: [520, 540, 560, 580, 600, 620, 640], tick: 4, pad: 6 });
  rich(g, 416, 632, 'Emission Spectrum', { size: 15.5, anchor: 'middle' });
  rich(g, 463, 898, '\u03bb emission (nm)', { size: 16, anchor: 'middle' });
})();

// ---------- j ----------
(function () {
  const g = svg.append('g');
  const x = d3.scaleLinear().domain([4, 10]).range([633.3, 851.7]);
  const y = d3.scaleLinear().domain([0, 20]).range([862.7, 706.7]);
  const fitPH = d3.range(4, 10.001, 0.05);
  const fit = d3.line().x(d => x(d))
    .y(d => y(bcecfFit.bottom + (bcecfFit.top - bcecfFit.bottom) / (1 + Math.pow(10, bcecfFit.pKa - d))));
  g.append('path').attr('d', fit(fitPH)).attr('fill', 'none').attr('stroke', '#000').attr('stroke-width', 2.2);
  dots(g, bcecfPH.map((p, i) => [p, bcecfRatio[i]]), x, y, 4.3, '#000');
  yAxis(g, y, { x: 633.3, from: 864, to: 687, ticks: [0, 5, 10, 15, 20], minor: [2.5, 7.5, 12.5, 17.5, 22.5], tick: 3, pad: 3 });
  xAxis(g, x, { y: 862.7, from: 632, to: 852, ticks: [4, 5, 6, 7, 8, 9, 10], minor: [4.5, 5.5, 6.5, 7.5, 8.5, 9.5], tick: 4, pad: 4 });
  g.append('circle').attr('cx', 634).attr('cy', 671.7).attr('r', 4.3).attr('fill', '#000');
  rich(g, 643, 675.5, 'BCECF loaded mitochondria (0.25\u00a0\u00a0mg/ml)', { size: 11, fill: '#222' });
  rich(g, 671.7, 745, [['pK', 'i'], ['a', 'sub'], [' =7.26\u00b10.04']], { size: 11, fill: '#555' });
  rich(g, 740, 900, [['pH'], ['m', 'sub']], { size: 16, anchor: 'middle' });
  rich(g, 596, 779, [['R'], ['BCECF', 'sub'], [' (500 nm / 440 nm)']], { size: 16, anchor: 'middle', rotate: -90 });
})();

// ---------- k ----------
(function () {
  const g = svg.append('g');
  // addition schematic
  const lineY = [596.7, 609.3, 621, 633.3, 645.7, 658.3, 671.7];
  const lineColor = ['#ff00ff', '#333333', '#ff0000', '#aaaaaa', '#00e5ee', '#22cc22', '#222222'];
  const textColor = ['#ff00ff', '#333333', '#e81515', '#a8a8a8', '#00dfee', '#22c322', '#222222'];
  acetateLevels.forEach((a, i) => {
    g.append('line').attr('x1', i === 6 ? 885 : 900).attr('x2', 1147.3).attr('y1', lineY[i]).attr('y2', lineY[i])
      .attr('stroke', lineColor[i]).attr('stroke-width', i === 4 ? 2.6 : 1.8);
    g.append('text').attr('x', 1026.7).attr('y', lineY[i] - 2.5).attr('text-anchor', 'middle')
      .attr('font-size', 11).attr('fill', textColor[i]).text(`${a} mM NaAcetate`);
  });
  g.append('line').attr('x1', 900).attr('x2', 900).attr('y1', 596).attr('y2', 684).attr('stroke', '#000').attr('stroke-width', 1.3);
  g.append('path').attr('d', 'M896.8,682 L903.2,682 L900,689 Z').attr('fill', '#000');

  const x = d3.scaleLinear().domain([0, 15]).range([901, 1097]);
  const y = d3.scaleLinear().domain([7.2, 7.8]).range([841.7, 717.7]);
  function series(times, vals, err, color, shape) {
    const s = g.append('g');
    vals.forEach((v, i) => {
      const cx = x(times[i]), lo = y(v - err), hi = y(v + err);
      s.append('line').attr('x1', cx).attr('x2', cx).attr('y1', lo).attr('y2', hi).attr('stroke', color).attr('stroke-width', 1.3);
      [lo, hi].forEach(yy => s.append('line').attr('x1', cx - 2.5).attr('x2', cx + 2.5).attr('y1', yy).attr('y2', yy).attr('stroke', color).attr('stroke-width', 1.3));
      if (shape === 'circle') s.append('circle').attr('cx', cx).attr('cy', y(v)).attr('r', 3.3).attr('fill', color);
      else s.append('rect').attr('x', cx - 2.8).attr('y', y(v) - 2.8).attr('width', 5.6).attr('height', 5.6).attr('fill', color);
    });
  }
  series(pHTimeDense, pHAcetate125, pHErr.a125, '#9a9a9a', 'rect');
  series(pHTimeDense, pHAcetate625, pHErr.a625, '#00e8f0', 'rect');
  series(pHTimeDense, pHAcetate5, pHErr.a5, '#00f000', 'rect');
  series(pHTimeDense, pHAcetate25, pHErr.a25, '#ff0000', 'rect');
  series(pHTimeDense, pHAcetate50, pHErr.a50, '#3a3a3a', 'circle');
  series(pHTimeDense, pHAcetate75, pHErr.a75, '#ff00ff', 'rect');
  series(pHTimeSparse, pHAcetate0, pHErr.a0, '#000000', 'circle');
  yAxis(g, y, { x: 899.3, from: 864, to: 695, ticks: [7.2, 7.4, 7.6, 7.8], fmt: d3.format('.1f'), minor: [7.1, 7.3, 7.5, 7.7], tick: 3, pad: 3, fs: 11 });
  xAxis(g, x, { y: 863.3, from: 898, to: 1147, ticks: [0, 5, 10, 15], minor: [2.5, 7.5, 12.5, 17.5], tick: 4, pad: 2 });
  rich(g, 1026.7, 899, 'Time (s)', { size: 16, anchor: 'middle' });
  rich(g, 873, 776, [['pH'], ['m', 'sub']], { size: 16, anchor: 'middle', rotate: -90 });
})();

// panel letters
[['a', 12, 20], ['b', 297, 20], ['c', 591, 20], ['d', 880, 21],
 ['e', 9, 302], ['f', 294, 302], ['g', 596, 302], ['h', 858, 302],
 ['i', 8, 608], ['j', 589, 608], ['k', 861, 608]].forEach(([s, x, y]) => panelLetter(x, y, s));
</script>
</body>
</html>
